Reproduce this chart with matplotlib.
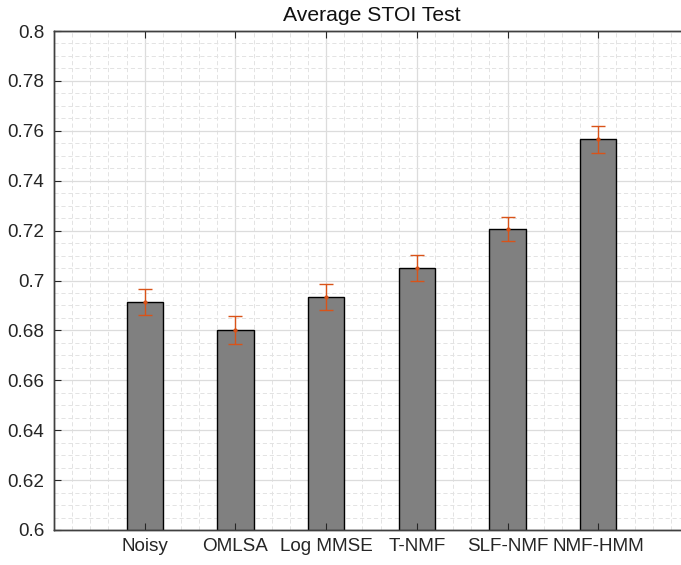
import matplotlib
matplotlib.use("Agg")
import matplotlib.pyplot as plt
from matplotlib.ticker import MultipleLocator, FormatStrFormatter
import numpy as np

plt.rcParams['font.family'] = ['Liberation Sans', 'DejaVu Sans']
plt.rcParams['lines.scale_dashes'] = False

categories = ["Noisy", "OMLSA", "Log MMSE", "T-NMF", "SLF-NMF", "NMF-HMM"]
means = [0.6914, 0.6802, 0.6933, 0.7051, 0.7205, 0.7566]
errors = [0.0052, 0.0055, 0.0052, 0.0052, 0.0048, 0.0054]
yticks = [0.6, 0.62, 0.64, 0.66, 0.68, 0.7, 0.72, 0.74, 0.76, 0.78, 0.8]
title = "Average STOI Test"

W, H = 681, 565
fig = plt.figure(figsize=(W / 100, H / 100), dpi=100)
pos = [54 / W, (H - 530) / H, 635 / W, 499 / H]
ax = fig.add_axes(pos)
ax.set_axisbelow(True)

x = np.arange(1, len(categories) + 1)
ax.bar(x, means, width=0.4, color='#808080', edgecolor='black', linewidth=1.0, zorder=1)
ax.errorbar(x, means, yerr=errors, fmt='.', color='#D95319', ecolor='#D95319',
            elinewidth=1.0, capsize=4.7, capthick=1.0, markersize=4, zorder=3)

ax.set_xlim(0, 7)
ax.set_ylim(0.6, 0.8)
ax.set_xticks(x)
ax.set_xticklabels(categories)
ax.set_yticks(yticks)
ax.yaxis.set_major_formatter(FormatStrFormatter('%g'))
ax.xaxis.set_minor_locator(MultipleLocator(0.2))
ax.yaxis.set_minor_locator(MultipleLocator(0.005))

ax.grid(which='major', color='#dcdcdc', linewidth=0.9, linestyle='-')
ax.grid(which='minor', color='#e3e3e3', linewidth=0.7, linestyle=(0, (3, 2)))

ax.tick_params(which='major', direction='in', length=0, labelsize=13.6,
               labelcolor='#262626', pad=7)
ax.tick_params(axis='x', pad=6)
ax.tick_params(which='minor', length=0)
for s in ax.spines.values():
    s.set_color('#262626')
    s.set_linewidth(1.0)

ax.set_title(title, fontsize=15.2, color='#111111', pad=7)

# overlay axes for tick marks drawn above the bars
ax2 = fig.add_axes(pos)
ax2.patch.set_visible(False)
ax2.set_xlim(0, 7)
ax2.set_ylim(0.6, 0.8)
ax2.set_xticks(x)
ax2.set_yticks(yticks)
ax2.tick_params(which='major', direction='in', length=5, width=0.8, color='#262626',
                top=True, right=True, labelbottom=False, labelleft=False)
for s in ax2.spines.values():
    s.set_color('#404040')
    s.set_linewidth(1.0)

fig.savefig("out.png", dpi=100)
